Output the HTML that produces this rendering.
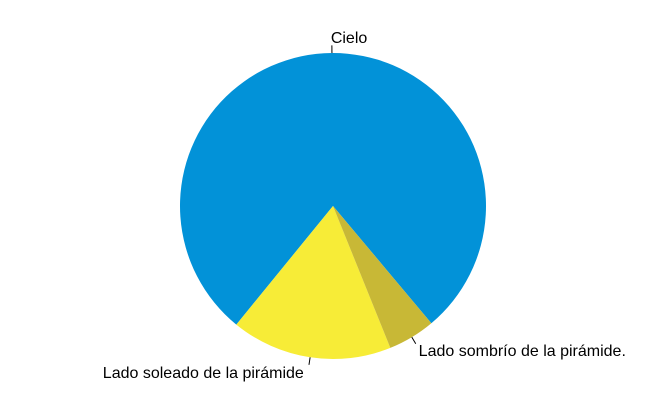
<!DOCTYPE html>
<html><head><meta charset="utf-8"><style>
html,body{margin:0;padding:0;background:#fff;}
svg{display:block;font-family:"Liberation Sans",sans-serif;}
</style></head><body>
<svg id="chart" width="666" height="411" viewBox="0 0 666 411"></svg>
<script>
const labels = ["Cielo", "Lado soleado de la pirámide", "Lado sombrío de la pirámide."];
const values = [78, 17, 5];
const colors = ["#0292D8", "#F7EC37", "#C8B836"];
const names = ["slice-cielo", "slice-lado-soleado", "slice-lado-sombrio"];
const cx = 333, cy = 206, r = 153, init = 310;
const svg = document.getElementById('chart');
const NS = "http://www.w3.org/2000/svg";
const total = values.reduce((a,b)=>a+b,0);
let start = init;
function pt(a, rr){ const t=a*Math.PI/180; return [cx+rr*Math.cos(t), cy-rr*Math.sin(t)]; }
values.forEach((v,i)=>{
  const sweep = v/total*360, end = start+sweep;
  const p0 = pt(start,r), p1 = pt(end,r);
  const path = document.createElementNS(NS,'path');
  path.setAttribute('d',`M${cx},${cy} L${p0[0]},${p0[1]} A${r},${r} 0 ${sweep>180?1:0} 0 ${p1[0]},${p1[1]} Z`);
  path.setAttribute('fill',colors[i]);
  
  
  svg.appendChild(path);
  const mid = start + sweep/2;
  const a = pt(mid,r), b = pt(mid,r*1.05), c = pt(mid,r*1.1);
  const ln = document.createElementNS(NS,'line');
  ln.setAttribute('x1',a[0]);ln.setAttribute('y1',a[1]);ln.setAttribute('x2',b[0]);ln.setAttribute('y2',b[1]);
  ln.setAttribute('stroke','#000');ln.setAttribute('stroke-width','1');
  
  
  svg.appendChild(ln);
  const tx = document.createElementNS(NS,'text');
  const cosv = Math.cos(mid*Math.PI/180);
  tx.setAttribute('x', c[0] + (cosv < -0.01 ? -4 : -1));
  tx.setAttribute('y', c[1]+5.5);
  tx.setAttribute('font-size','16');
  tx.setAttribute('text-anchor', cosv < -0.01 ? 'end' : 'start');
  tx.textContent = labels[i];
  
  
  svg.appendChild(tx);
  start = end;
});
</script>
</body></html>
